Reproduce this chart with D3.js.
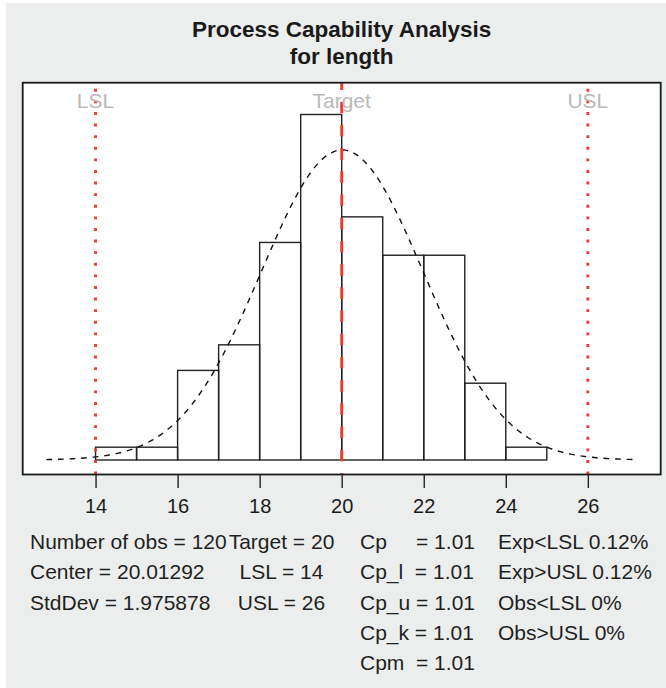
<!DOCTYPE html>
<html>
<head>
<meta charset="utf-8">
<script src="https://cdn.jsdelivr.net/npm/d3@7/dist/d3.min.js"></script>
<style>
  body { margin: 0; background: #fff; }
  text { font-family: 'Liberation Sans', Arial, Helvetica, sans-serif; }
</style>
</head>
<body>
<script>
// histogram of length (bin edges and counts)
const breaks = [14, 15, 16, 17, 18, 19, 20, 21, 22, 23, 24, 25];
const counts = [1, 1, 7, 9, 17, 27, 19, 16, 16, 6, 1];

const nObs = 120;
const center = 20.01292;
const stdDev = 1.975878;
const target = 20;
const LSL = 14;
const USL = 26;

const xTicks = [14, 16, 18, 20, 22, 24, 26];

const specNames = ['LSL', 'Target', 'USL'];
const specValues = [LSL, target, USL];

// text panel below the plot
const col1 = ['Number of obs = ' + nObs, 'Center = ' + center, 'StdDev = ' + stdDev];
const col2 = ['Target = ' + target, 'LSL = ' + LSL, 'USL = ' + USL];
const capLabels = ['Cp     = ', 'Cp_l  = ', 'Cp_u = ', 'Cp_k = ', 'Cpm  = '];
const capValues = [1.01, 1.01, 1.01, 1.01, 1.01];
const col4 = ['Exp<LSL 0.12%', 'Exp>USL 0.12%', 'Obs<LSL 0%', 'Obs>USL 0%'];

const width = 666;
const height = 688;

const plotLeft = 22.7;
const plotRight = 660.7;
const plotTop = 82.7;
const plotBottom = 474.5;

const binWidth = breaks[1] - breaks[0];
const density = counts.map(c => c / (nObs * binWidth));
const dnorm = x => Math.exp(-0.5 * Math.pow((x - center) / stdDev, 2)) / (stdDev * Math.sqrt(2 * Math.PI));

// x limits: data/spec range widened by 10%, then R's 4% axis padding
const xr = d3.extent(breaks.concat(specValues));
const xlim = [xr[0] - 0.1 * (xr[1] - xr[0]), xr[1] + 0.1 * (xr[1] - xr[0])];
const ylim = [0, 1.05 * Math.max(d3.max(density), dnorm(center))];
const pad = (l) => [l[0] - 0.04 * (l[1] - l[0]), l[1] + 0.04 * (l[1] - l[0])];

const xScale = d3.scaleLinear().domain(pad(xlim)).range([plotLeft, plotRight]);
const yScale = d3.scaleLinear().domain(pad(ylim)).range([plotBottom, plotTop]);

const svg = d3.select('body')
              .append('svg')
              .attr('width', width)
              .attr('height', height);

//grey background
svg.append('rect')
   .attr('x', 6)
   .attr('y', 3)
   .attr('width', width - 6)
   .attr('height', height - 3)
   .attr('fill', '#eceeed');

svg.append('defs')
   .append('clipPath')
   .attr('id', 'plotclip')
   .append('rect')
   .attr('x', plotLeft)
   .attr('y', plotTop)
   .attr('width', plotRight - plotLeft)
   .attr('height', plotBottom - plotTop);

svg.append('rect')
   .attr('x', plotLeft)
   .attr('y', plotTop)
   .attr('width', plotRight - plotLeft)
   .attr('height', plotBottom - plotTop)
   .attr('fill', '#fff');

//histogram bars
svg.selectAll('rect.bar')
   .data(counts)
   .enter()
   .append('rect')
   .attr('class', 'bar')
   .attr('x', (d, i) => xScale(breaks[i]))
   .attr('width', (d, i) => xScale(breaks[i + 1]) - xScale(breaks[i]))
   .attr('y', (d, i) => yScale(density[i]))
   .attr('height', (d, i) => yScale(0) - yScale(density[i]))
   .attr('fill', 'none')
   .attr('stroke', '#222')
   .attr('stroke-width', 1.4);

const plot = svg.append('g').attr('clip-path', 'url(#plotclip)');

//normal density curve
const curveX = d3.range(250).map(i => xlim[0] + i * (xlim[1] - xlim[0]) / 249);
plot.append('path')
    .datum(curveX)
    .attr('d', d3.line().x(d => xScale(d)).y(d => yScale(dnorm(d))))
    .attr('fill', 'none')
    .attr('stroke', '#111')
    .attr('stroke-width', 1.4)
    .attr('stroke-dasharray', '5.8 5.8');

//spec limit and target lines, drawn bottom to top like abline
plot.selectAll('line.spec')
    .data(specValues)
    .enter()
    .append('line')
    .attr('class', 'spec')
    .attr('x1', d => xScale(d))
    .attr('x2', d => xScale(d))
    .attr('y1', plotBottom)
    .attr('y2', plotTop)
    .attr('stroke', '#ee3a31')
    .attr('stroke-width', 2.9)
    .attr('stroke-dasharray', (d, i) => i === 1 ? '11.6 11.6' : '2.9 8.7')
    .attr('stroke-dashoffset', (d, i) => i === 1 ? 10 : 0);

svg.selectAll('text.spec')
   .data(specNames)
   .enter()
   .append('text')
   .attr('class', 'spec')
   .text(d => d)
   .attr('x', (d, i) => xScale(specValues[i]))
   .attr('y', 108.3)
   .attr('text-anchor', 'middle')
   .attr('font-size', 21)
   .attr('fill', '#b9b9b9');

//box
svg.append('rect')
   .attr('x', plotLeft)
   .attr('y', plotTop)
   .attr('width', plotRight - plotLeft)
   .attr('height', plotBottom - plotTop)
   .attr('fill', 'none')
   .attr('stroke', '#1a1a1a')
   .attr('stroke-width', 1.8);

//x axis
const xAxis = d3.axisBottom(xScale)
                .tickValues(xTicks)
                .tickSize(13.5)
                .tickPadding(6)
                .tickFormat(d3.format('d'));

const axis = svg.append('g')
                .attr('transform', 'translate(0,' + plotBottom + ')')
                .call(xAxis);
axis.select('.domain').remove();
axis.selectAll('.tick line').attr('stroke', '#222').attr('stroke-width', 1.4);
axis.selectAll('.tick text')
    .attr('font-size', 20)
    .attr('font-family', null)
    .attr('fill', '#1a1a1a')
    .attr('dy', null)
    .attr('y', 512.7 - plotBottom);

//title
svg.append('text')
   .text('Process Capability Analysis')
   .attr('x', (plotLeft + plotRight) / 2)
   .attr('y', 37.3)
   .attr('text-anchor', 'middle')
   .attr('font-size', 22.5)
   .attr('font-weight', 'bold')
   .attr('fill', '#1a1a1a');

svg.append('text')
   .text('for length')
   .attr('x', (plotLeft + plotRight) / 2)
   .attr('y', 63.5)
   .attr('text-anchor', 'middle')
   .attr('font-size', 22.5)
   .attr('font-weight', 'bold')
   .attr('fill', '#1a1a1a');

//statistics panel
const rowY = i => 549 + i * 30.25;

const stats = svg.append('g')
                 .attr('font-size', 21)
                 .attr('fill', '#1f1f1f');

stats.selectAll('text.c1')
     .data(col1)
     .enter()
     .append('text')
     .attr('class', 'c1')
     .text(d => d)
     .attr('x', 30)
     .attr('y', (d, i) => rowY(i));

stats.selectAll('text.c2')
     .data(col2)
     .enter()
     .append('text')
     .attr('class', 'c2')
     .text(d => d)
     .attr('x', 281.5)
     .attr('y', (d, i) => rowY(i))
     .attr('text-anchor', 'middle');

// keep the padding spaces of the labels
stats.selectAll('text.c3')
     .data(capLabels)
     .enter()
     .append('text')
     .attr('class', 'c3')
     .text((d, i) => (d + capValues[i].toFixed(2)).replace(/ /g, '\u00a0'))
     .attr('x', 360)
     .attr('y', (d, i) => rowY(i));

stats.selectAll('text.c4')
     .data(col4)
     .enter()
     .append('text')
     .attr('class', 'c4')
     .text(d => d)
     .attr('x', 498)
     .attr('y', (d, i) => rowY(i));
</script>
</body>
</html>
